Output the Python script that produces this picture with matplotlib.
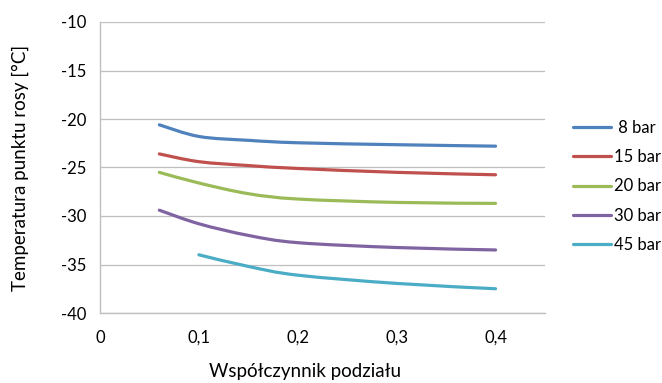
import numpy as np
import matplotlib
matplotlib.use('Agg')
from matplotlib import pyplot as plt
from matplotlib.path import Path
from matplotlib.patches import PathPatch
from matplotlib.lines import Line2D

plt.rcParams['font.family'] = ['Lato', 'DejaVu Sans']
plt.rcParams['axes.unicode_minus'] = False

# --- data ---
labels = [' 8 bar', '15 bar', '20 bar', '30 bar', '45 bar']
colors = ['#4F81BD', '#C0504D', '#9BBB59', '#8064A2', '#4BACC6']

x_main = [0.06, 0.1, 0.15, 0.2, 0.3, 0.4]
x_45 = [0.1, 0.15, 0.2, 0.3, 0.4]

t_8 = [-20.6, -21.8, -22.2, -22.45, -22.65, -22.8]
t_15 = [-23.6, -24.4, -24.8, -25.1, -25.5, -25.75]
t_20 = [-25.5, -26.6, -27.7, -28.25, -28.6, -28.7]
t_30 = [-29.4, -30.8, -32.0, -32.75, -33.25, -33.5]
t_45 = [-34.0, -35.2, -36.1, -36.95, -37.5]

series = [(x_main, t_8), (x_main, t_15), (x_main, t_20), (x_main, t_30), (x_45, t_45)]

x_ticks = [0, 0.1, 0.2, 0.3, 0.4]
x_tick_labels = ['0', '0,1', '0,2', '0,3', '0,4']
y_ticks = [-40, -35, -30, -25, -20, -15, -10]


def smooth_path(xs, ys, k=1/6):
    """ Excel-like smoothed line: cubic Bezier segments through the points. """
    pts = np.column_stack((xs, ys))
    n = len(pts)
    verts = [pts[0]]
    codes = [Path.MOVETO]
    for i in range(n - 1):
        p0 = pts[i - 1] if i > 0 else pts[i]
        p1 = pts[i]
        p2 = pts[i + 1]
        p3 = pts[i + 2] if i + 2 < n else pts[i + 1]
        c1 = p1 + (p2 - p0) * k
        c2 = p2 - (p3 - p1) * k
        verts += [c1, c2, p2]
        codes += [Path.CURVE4] * 3
    return Path(verts, codes)


fig = plt.figure(figsize=(6.62, 3.83), dpi=100)
ax = fig.add_axes([100 / 662, 1 - 313 / 383, 445 / 662, 291 / 383])

for (xs, ys), c in zip(series, colors):
    patch = PathPatch(smooth_path(xs, ys), facecolor='none', edgecolor=c,
                      lw=2.3, capstyle='round', joinstyle='round', zorder=3)
    ax.add_patch(patch)

ax.set_xlim(0, 0.45)
ax.set_ylim(-40, -10)
ax.set_xticks(x_ticks)
ax.set_xticklabels(x_tick_labels)
ax.set_yticks(y_ticks)
ax.grid(axis='y', color='#BFBFBF', lw=0.9)
ax.set_axisbelow(True)
for s in ['top', 'right']:
    ax.spines[s].set_visible(False)
ax.spines['left'].set_color('#BFBFBF')
ax.spines['bottom'].set_color('#BFBFBF')
ax.spines['left'].set_linewidth(1.0)
ax.spines['bottom'].set_linewidth(1.0)
ax.tick_params(length=0, labelsize=12, colors='black')
ax.tick_params(axis='x', pad=12)
ax.tick_params(axis='y', pad=10)

fig.text(305 / 662, 1 - 372 / 383, 'Współczynnik podziału', ha='center', va='center', fontsize=13.5)
fig.text(20 / 662, 1 - 168 / 383, 'Temperatura punktu rosy [°C]', ha='center', va='center',
         rotation=90, fontsize=13.5)

handles = [Line2D([], [], color=c, lw=2.3, solid_capstyle='round') for c in colors]
fig.legend(handles, labels, loc='upper left', bbox_to_anchor=(566 / 662, 1 - 113 / 383),
           frameon=False, fontsize=12, handlelength=2.3, handletextpad=0.15,
           labelspacing=0.8, borderaxespad=0)

fig.savefig('out.png', dpi=100)
